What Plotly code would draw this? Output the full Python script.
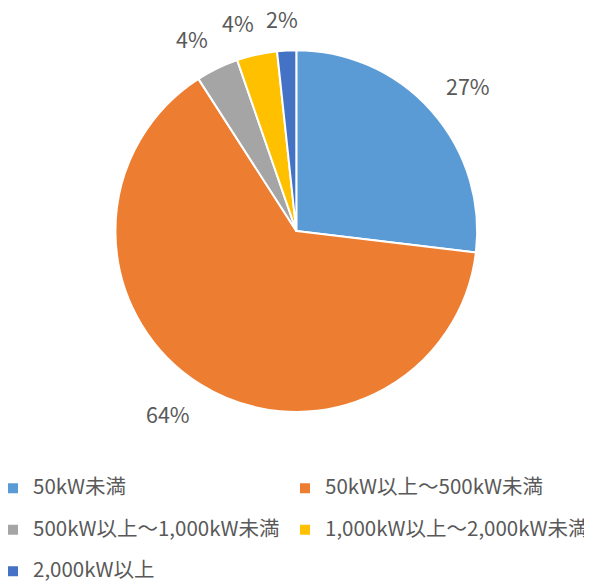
import math
import plotly.graph_objects as go

categories = ["50kW未満", "50kW以上～500kW未満", "500kW以上～1,000kW未満",
              "1,000kW以上～2,000kW未満", "2,000kW以上"]
shares = [26.9, 64.0, 3.8, 3.6, 1.7]
colors = ["#5B9BD5", "#ED7D31", "#A5A5A5", "#FFC000", "#4472C4"]

FONT = "Noto Sans CJK JP, Noto Sans, sans-serif"
TXT = "#595959"
W, H = 595, 583
DOM_X = [0.194, 0.802]
DOM_Y = [0.2933, 0.9142]

# leading empty line + bottom valign gives taller legend rows with the text on the lower line
legend_labels = [f'<br><span style="font-size:20.5px">{c}</span>' for c in categories]

fig = go.Figure(go.Pie(
    labels=legend_labels,
    values=shares,
    sort=False,
    direction="clockwise",
    rotation=0,
    marker=dict(colors=colors, line=dict(color="white", width=2)),
    textinfo="none",
    hoverinfo="skip",
    domain=dict(x=DOM_X, y=DOM_Y),
))

# percentage labels placed outside the end of each slice (derived from the values)
cx = (DOM_X[0] + DOM_X[1]) / 2 * W
cy = (1 - (DOM_Y[0] + DOM_Y[1]) / 2) * H
R = min((DOM_X[1] - DOM_X[0]) * W, (DOM_Y[1] - DOM_Y[0]) * H) / 2
total = sum(shares)
cum = 0.0
LABEL_R = R + 19
for v in shares:
    mid = (cum + v / 2) / total * 2 * math.pi
    cum += v
    ux, uy = math.sin(mid), -math.cos(mid)
    txt = f"{round(v / total * 100)}%"
    tw = 11 * len(txt) + 11
    th = 26
    sx = math.copysign(min(1.0, abs(ux) * 4), ux)
    sy = math.copysign(min(1.0, abs(uy) * 4), uy)
    px = cx + LABEL_R * ux + sx * tw / 2
    py = cy + LABEL_R * uy + sy * th / 2
    fig.add_annotation(
        x=px / W, y=1 - py / H, xref="paper", yref="paper",
        text=txt, showarrow=False, xanchor="center", yanchor="middle",
        font=dict(size=21.5, color=TXT, family=FONT),
    )

fig.update_layout(
    width=W, height=H,
    margin=dict(l=0, r=0, t=0, b=0, autoexpand=False),
    paper_bgcolor="white",
    plot_bgcolor="white",
    showlegend=True,
    legend=dict(
        orientation="h",
        x=0, xanchor="left",
        y=1 - 453 / H, yanchor="top",
        indentation=-7,
        entrywidth=254, entrywidthmode="pixels",
        valign="bottom",
        font=dict(size=14.8, color=TXT, family=FONT),
        traceorder="normal",
    ),
)

fig.write_html("out.html", config={"displayModeBar": False},
               post_script="document.body.style.margin='0px';")
